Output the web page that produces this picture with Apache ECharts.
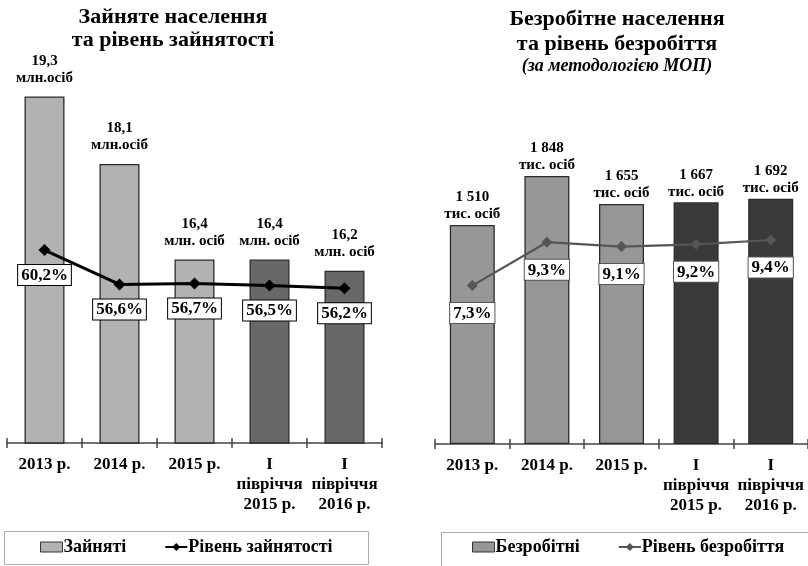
<!DOCTYPE html>
<html>
<head>
<meta charset="utf-8">
<script src="https://cdn.jsdelivr.net/npm/echarts@6/dist/echarts.min.js"></script>
<style>html,body{margin:0;padding:0;background:#fff}#c{width:808px;height:566px}</style>
</head>
<body>
<div id="c"></div>
<script>
// ---- data ----
var categories = ['2013 р.', '2014 р.', '2015 р.', 'I\nпівріччя\n2015 р.', 'I\nпівріччя\n2016 р.'];
var employed = [19.3, 18.1, 16.4, 16.4, 16.2];            // млн осіб
var employedUnits = ['млн.осіб', 'млн.осіб', 'млн. осіб', 'млн. осіб', 'млн. осіб'];
var employmentRate = [60.2, 56.6, 56.7, 56.5, 56.2];      // %
var unemployed = [1510, 1848, 1655, 1667, 1692];          // тис. осіб
var unemployedUnit = 'тис. осіб';
var unemploymentRate = [7.3, 9.3, 9.1, 9.2, 9.4];         // %

var FONT = '"Liberation Serif", "Times New Roman", serif';
function comma(v) { return String(v).replace('.', ','); }
function thousands(v) { return String(v).replace(/\B(?=(\d{3})+(?!\d))/g, ' '); }

var chart = echarts.init(document.getElementById('c'), null, {renderer: 'canvas'});

var axisLineStyle = {color: '#444', width: 1.5};
function mainX(gridIndex) {
  return {
    type: 'category', gridIndex: gridIndex, data: categories, position: 'bottom',
    boundaryGap: true,
    axisLine: {show: true, lineStyle: axisLineStyle},
    axisTick: {show: true, inside: false, length: 5, lineStyle: axisLineStyle},
    axisLabel: {interval: 0, margin: 12, fontFamily: FONT, fontWeight: 'bold', fontSize: 17,
      lineHeight: 20, color: '#000'},
    splitLine: {show: false}
  };
}
function tickX(gridIndex) {
  return {
    type: 'category', gridIndex: gridIndex, data: categories, position: 'bottom',
    boundaryGap: true,
    axisLine: {show: false},
    axisTick: {show: true, inside: true, length: 5, lineStyle: axisLineStyle},
    axisLabel: {show: false}, splitLine: {show: false}
  };
}
function hiddenY(gridIndex, min, max) {
  return {type: 'value', gridIndex: gridIndex, min: min, max: max, show: false,
    splitLine: {show: false}};
}

var pctLabel = function (dist, border) {
  return {
    show: true, position: 'bottom', distance: dist,
    formatter: function (p) { return comma(p.value) + '%'; },
    fontFamily: FONT, fontWeight: 'bold', fontSize: 17, color: '#000',
    backgroundColor: '#fff', borderColor: border, borderWidth: 1, padding: [2, 3, 1, 3]
  };
};

var legendText = {fontFamily: FONT, fontWeight: 'bold', fontSize: 18, color: '#000', padding: [0, 0, 0, -4]};

var option = {
  backgroundColor: '#fff',
  animation: false,
  title: [
    {
      text: 'Зайняте населення\nта рівень зайнятості',
      left: 173, top: 6, textAlign: 'center', padding: 0,
      textStyle: {fontFamily: FONT, fontWeight: 'bold', fontSize: 22, lineHeight: 23, color: '#000'}
    },
    {
      text: 'Безробітне населення\nта рівень безробіття',
      subtext: '(за методологією МОП)',
      left: 617, top: 7, textAlign: 'center', padding: 0, itemGap: 0,
      textStyle: {fontFamily: FONT, fontWeight: 'bold', fontSize: 22, lineHeight: 25, color: '#000'},
      subtextStyle: {fontFamily: FONT, fontWeight: 'bold', fontStyle: 'italic', fontSize: 18,
        lineHeight: 19, color: '#000'}
    }
  ],
  grid: [
    {left: 7, width: 375, top: 57, height: 386},
    {left: 435, width: 375, top: 84, height: 360}
  ],
  xAxis: [mainX(0), tickX(0), mainX(1), tickX(1)],
  yAxis: [
    hiddenY(0, 13.14, 20),
    hiddenY(0, 40, 80.42),
    hiddenY(1, 0, 2483),
    hiddenY(1, 0, 16.59)
  ],
  legend: [
    {
      left: 40, top: 538, padding: 0, itemGap: 38,
      itemWidth: 22, itemHeight: 10,
      textStyle: legendText,
      data: [
        {name: 'Зайняті', icon: 'rect', itemStyle: {color: '#b2b2b2', borderColor: '#333', borderWidth: 1}},
        {name: 'Рівень зайнятості'}
      ]
    },
    {
      left: 472, top: 538, padding: 0, itemGap: 38,
      itemWidth: 22, itemHeight: 10,
      textStyle: legendText,
      data: [
        {name: 'Безробітні', icon: 'rect', itemStyle: {color: '#979797', borderColor: '#333', borderWidth: 1}},
        {name: 'Рівень безробіття'}
      ]
    }
  ],
  graphic: [
    {type: 'rect', shape: {x: 4.5, y: 531.5, width: 364, height: 33}, style: {fill: 'none', stroke: '#aaa', lineWidth: 1}, silent: true},
    {type: 'rect', shape: {x: 441.5, y: 532.5, width: 400, height: 40}, style: {fill: 'none', stroke: '#aaa', lineWidth: 1}, silent: true}
  ],
  series: [
    {
      name: 'Зайняті', type: 'bar', xAxisIndex: 0, yAxisIndex: 0, data: employed,
      barWidth: 40,
      itemStyle: {
        color: function (p) { return p.dataIndex >= 3 ? '#686868' : '#b2b2b2'; },
        borderColor: '#2a2a2a', borderWidth: 1.3
      },
      label: {
        show: true, position: 'top', distance: 10,
        formatter: function (p) { return comma(p.value) + '\n' + employedUnits[p.dataIndex]; },
        fontFamily: FONT, fontWeight: 'bold', fontSize: 15, lineHeight: 17, color: '#000'
      },
      z: 2
    },
    {
      name: 'Рівень зайнятості', type: 'line', xAxisIndex: 0, yAxisIndex: 1, data: employmentRate,
      symbol: 'diamond', symbolSize: 12,
      itemStyle: {color: '#000'},
      lineStyle: {color: '#000', width: 3},
      label: pctLabel(9, '#000'),
      z: 4
    },
    {
      name: 'Безробітні', type: 'bar', xAxisIndex: 2, yAxisIndex: 2, data: unemployed,
      barWidth: 45,
      itemStyle: {
        color: function (p) { return p.dataIndex >= 3 ? '#3a3a3a' : '#979797'; },
        borderColor: '#2a2a2a', borderWidth: 1.3
      },
      label: {
        show: true, position: 'top', distance: 2,
        formatter: function (p) { return thousands(p.value) + '\n' + unemployedUnit; },
        fontFamily: FONT, fontWeight: 'bold', fontSize: 15, lineHeight: 17, color: '#000'
      },
      z: 2
    },
    {
      name: 'Рівень безробіття', type: 'line', xAxisIndex: 2, yAxisIndex: 3, data: unemploymentRate,
      symbol: 'diamond', symbolSize: 11,
      itemStyle: {color: '#555'},
      lineStyle: {color: '#555', width: 2.2},
      label: pctLabel(12, '#555'),
      z: 4
    }
  ]
};
chart.setOption(option);
</script>
</body>
</html>
